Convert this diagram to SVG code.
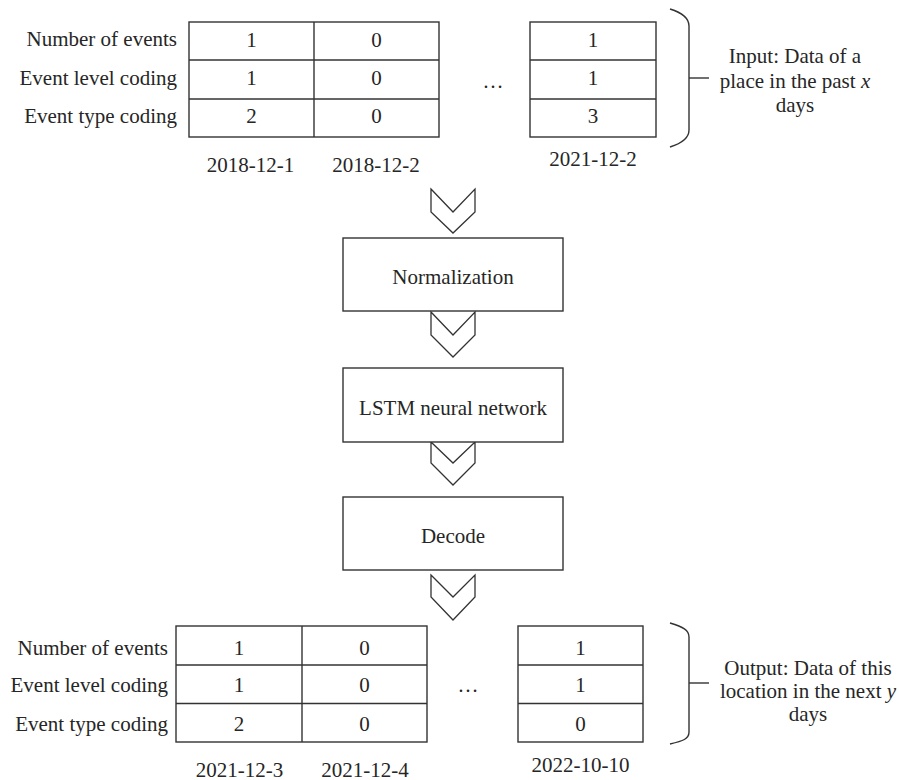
<svg xmlns="http://www.w3.org/2000/svg" width="899" height="780" viewBox="0 0 899 780">
<style>
  text { font-family: "Liberation Serif", "Times New Roman", serif; font-size: 21px; fill: #262626; }
  .c { text-anchor: middle; }
  .r { text-anchor: end; }
  .box { fill: #ffffff; stroke: #333333; stroke-width: 1.4; }
  .ln { fill: none; stroke: #333333; stroke-width: 1.4; }
  .chev { fill: #ffffff; stroke: #333333; stroke-width: 1.3; stroke-linejoin: miter; }
  .it { font-style: italic; }
</style>
<rect width="899" height="780" fill="#ffffff"/>

<g id="input-table">
  <text class="r" x="177" y="46">Number of events</text>
  <text class="r" x="177" y="85">Event level coding</text>
  <text class="r" x="177" y="123">Event type coding</text>
  <rect class="box" x="189" y="22" width="250" height="115"/>
  <line class="ln" x1="314" y1="22" x2="314" y2="137"/>
  <line class="ln" x1="189" y1="60" x2="439" y2="60"/>
  <line class="ln" x1="189" y1="99" x2="439" y2="99"/>
  <text class="c" x="251.5" y="46.5">1</text>
  <text class="c" x="251.5" y="85">1</text>
  <text class="c" x="251.5" y="123">2</text>
  <text class="c" x="376.5" y="46.5">0</text>
  <text class="c" x="376.5" y="85">0</text>
  <text class="c" x="376.5" y="123">0</text>
  <text class="c" x="493" y="88">…</text>
  <rect class="box" x="530" y="22" width="126" height="115"/>
  <line class="ln" x1="530" y1="60" x2="656" y2="60"/>
  <line class="ln" x1="530" y1="99" x2="656" y2="99"/>
  <text class="c" x="593" y="46.5">1</text>
  <text class="c" x="593" y="85">1</text>
  <text class="c" x="593" y="123">3</text>
  <text class="c" x="250.5" y="171.5">2018-12-1</text>
  <text class="c" x="376" y="171.5">2018-12-2</text>
  <text class="c" x="593" y="165.5">2021-12-2</text>
</g>

<g id="input-label">
  <path class="ln" d="M670,9 C683,13 689,18 689,26 L689,130 C689,138 683,143 670,147"/>
  <line class="ln" x1="689" y1="78" x2="709" y2="78"/>
  <text class="c" x="795" y="62.5">Input: Data of a</text>
  <text class="c" x="795" y="87.5">place in the past <tspan class="it">x</tspan></text>
  <text class="c" x="795" y="112">days</text>
</g>

<g id="connectors">
  <polygon class="chev" points="431,189 453,212 475,189 475,212 453,233 431,212"/>
  <polygon class="chev" points="431,312 453,335 475,312 475,335 453,357 431,335"/>
  <polygon class="chev" points="431,442 453,463 475,442 475,463 453,485 431,463"/>
  <polygon class="chev" points="431,575 453,597 475,575 475,597 453,620 431,597"/>
</g>

<g id="normalization">
  <rect class="box" x="343" y="238" width="220" height="73"/>
  <text class="c" x="453" y="284">Normalization</text>
</g>

<g id="lstm">
  <rect class="box" x="343" y="368" width="220" height="74"/>
  <text class="c" x="453" y="414.5">LSTM neural network</text>
</g>

<g id="decode">
  <rect class="box" x="343" y="497" width="220" height="73"/>
  <text class="c" x="453" y="543">Decode</text>
</g>

<g id="output-table">
  <text class="r" x="168" y="655">Number of events</text>
  <text class="r" x="168" y="692">Event level coding</text>
  <text class="r" x="168" y="730.5">Event type coding</text>
  <rect class="box" x="176" y="626" width="251" height="116"/>
  <line class="ln" x1="302" y1="626" x2="302" y2="742"/>
  <line class="ln" x1="176" y1="665" x2="427" y2="665"/>
  <line class="ln" x1="176" y1="703.5" x2="427" y2="703.5"/>
  <text class="c" x="239" y="655">1</text>
  <text class="c" x="239" y="692">1</text>
  <text class="c" x="239" y="730.5">2</text>
  <text class="c" x="364.5" y="655">0</text>
  <text class="c" x="364.5" y="692">0</text>
  <text class="c" x="364.5" y="730.5">0</text>
  <text class="c" x="468" y="692">…</text>
  <rect class="box" x="518" y="626" width="125" height="116"/>
  <line class="ln" x1="518" y1="665" x2="643" y2="665"/>
  <line class="ln" x1="518" y1="703.5" x2="643" y2="703.5"/>
  <text class="c" x="580.5" y="655">1</text>
  <text class="c" x="580.5" y="692">1</text>
  <text class="c" x="580.5" y="730.5">0</text>
  <text class="c" x="239.5" y="776.5">2021-12-3</text>
  <text class="c" x="365" y="776.5">2021-12-4</text>
  <text class="c" x="580.5" y="771.5">2022-10-10</text>
</g>

<g id="output-label">
  <path class="ln" d="M670,623 C683,627 689,630 689,637 L689,732 C689,739 683,741 670,744"/>
  <line class="ln" x1="689" y1="683" x2="709" y2="683"/>
  <text class="c" x="808" y="675">Output: Data of this</text>
  <text class="c" x="808" y="698">location in the next <tspan class="it">y</tspan></text>
  <text class="c" x="808" y="721">days</text>
</g>
</svg>
